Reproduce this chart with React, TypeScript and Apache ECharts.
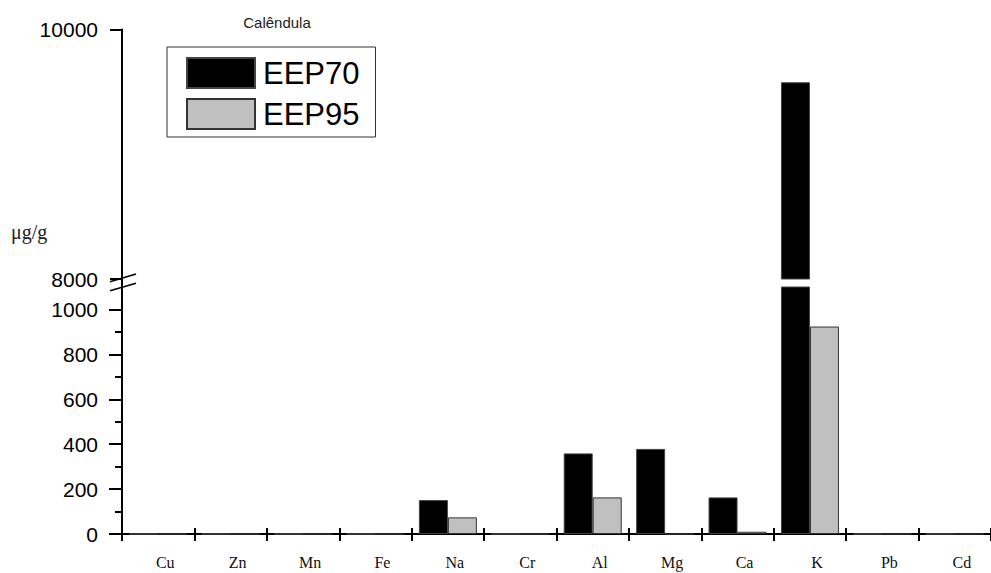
import React, { useEffect, useRef } from "react";
import * as echarts from "echarts";

const categories = ["Cu", "Zn", "Mn", "Fe", "Na", "Cr", "Al", "Mg", "Ca", "K", "Pb", "Cd"];
const eep70 = [0, 0, 0, 0, 151, 0, 359, 379, 163, 9577, 0, 0];
const eep95 = [0, 0, 0, 0, 74, 0, 163, 0, 10, 924, 0, 0];
const lowerTicks = [0, 200, 400, 600, 800, 1000];
const lowerMinorTicks = [100, 300, 500, 700, 900];
const upperTicks = [8000, 10000];
const seriesNames = ["EEP70", "EEP95"];
const title = "Calêndula";
const unitLabel = "μg/g";

const BREAK = 8000;
const LOWER_MAX = 1100;

export default function App() {
  const ref = useRef<HTMLDivElement>(null);
  useEffect(() => {
    if (!ref.current) return;
    const chart = echarts.init(ref.current, null, { renderer: "svg" });
    const sans = "'Liberation Sans', Arial, sans-serif";
    const serif = "'Liberation Serif', 'Times New Roman', serif";
    const styles = [
      { color: "#000000", borderColor: "#444444", borderWidth: 1 },
      { color: "#c0c0c0", borderColor: "#333333", borderWidth: 1 },
    ];
    const upperData = [eep70, eep95].map((arr) => arr.map((v) => (v >= BREAK ? v : null)));
    const gridLeft = 122;
    const gridWidth = 877;
    const plain = (v: number) => String(v);
    const option: any = {
      animation: false,
      backgroundColor: "#ffffff",
      title: {
        text: title,
        left: 272,
        top: 10,
        textAlign: "center",
        textStyle: { fontFamily: sans, fontSize: 15, fontWeight: "normal", color: "#222" },
      },
      legend: {
        data: seriesNames,
        orient: "vertical",
        left: 167,
        top: 47,
        icon: "rect",
        itemWidth: 68,
        itemHeight: 30,
        itemGap: 9,
        padding: [10, 16, 7, 19],
        borderColor: "#333",
        borderWidth: 1,
        textStyle: { fontFamily: sans, fontSize: 31, color: "#000", lineHeight: 30, padding: [0, 0, 0, 3] },
      },
      grid: [
        { left: gridLeft, top: 29.5, width: gridWidth, height: 249.5 },
        { left: gridLeft, top: 287, width: gridWidth, height: 247 },
      ],
      xAxis: [
        { type: "category", gridIndex: 0, data: categories, show: false },
        {
          type: "category",
          gridIndex: 1,
          data: categories,
          position: "bottom",
          axisLine: { show: true, lineStyle: { color: "#000", width: 2 } },
          axisTick: { show: true, length: 7, lineStyle: { color: "#000", width: 2 } },
          axisLabel: {
            fontFamily: serif,
            fontSize: 16,
            color: "#111",
            margin: 20,
            padding: [0, 0, 0, 14],
          },
        },
        {
          type: "category",
          gridIndex: 1,
          data: categories,
          position: "bottom",
          axisLine: { show: false },
          axisTick: { show: true, inside: true, length: 6, lineStyle: { color: "#000", width: 2 } },
          axisLabel: { show: false },
        },
      ],
      yAxis: [
        {
          type: "value",
          gridIndex: 0,
          min: BREAK,
          max: 10000,
          interval: 2000,
          axisLine: { show: true, lineStyle: { color: "#000", width: 2 } },
          axisTick: { show: true, length: 12, lineStyle: { color: "#000", width: 2 }, customValues: upperTicks },
          axisLabel: { fontFamily: sans, fontSize: 21, color: "#000", margin: 24, customValues: upperTicks, formatter: plain },
          splitLine: { show: false },
        },
        {
          type: "value",
          gridIndex: 1,
          min: 0,
          max: LOWER_MAX,
          axisLine: { show: true, lineStyle: { color: "#000", width: 2 } },
          axisTick: { show: true, length: 13, lineStyle: { color: "#000", width: 2 }, customValues: lowerTicks },
          axisLabel: { fontFamily: sans, fontSize: 21, color: "#000", margin: 24, customValues: lowerTicks, formatter: plain },
          splitLine: { show: false },
        },
        {
          type: "value",
          gridIndex: 1,
          min: 0,
          max: LOWER_MAX,
          position: "left",
          axisLine: { show: false },
          axisTick: { show: true, length: 7, lineStyle: { color: "#000", width: 2 }, customValues: lowerMinorTicks },
          axisLabel: { show: false, customValues: lowerMinorTicks },
          splitLine: { show: false },
        },
      ],
      series: [
        ...seriesNames.map((name, i) => ({
          name,
          type: "bar",
          xAxisIndex: 1,
          yAxisIndex: 1,
          data: i === 0 ? eep70 : eep95,
          barWidth: 29,
          barGap: "0%",
          clip: true,
          itemStyle: styles[i],
        })),
        ...seriesNames.map((name, i) => ({
          name,
          type: "bar",
          xAxisIndex: 0,
          yAxisIndex: 0,
          data: upperData[i],
          barWidth: 29,
          barGap: "0%",
          clip: true,
          itemStyle: styles[i],
        })),
      ],
      graphic: [
        {
          type: "line",
          shape: { x1: 122, y1: 278, x2: 122, y2: 288 },
          style: { stroke: "#000", lineWidth: 2 },
        },
        {
          type: "line",
          shape: { x1: 110, y1: 281.7, x2: 136, y2: 274 },
          style: { stroke: "#000", lineWidth: 1.6 },
        },
        {
          type: "line",
          shape: { x1: 110, y1: 290.7, x2: 136, y2: 283.3 },
          style: { stroke: "#000", lineWidth: 1.6 },
        },
        {
          type: "text",
          left: 11,
          top: 222,
          style: { text: unitLabel, fontFamily: serif, fontSize: 20, fill: "#222" },
        },
      ],
    };
    chart.setOption(option);
    return () => chart.dispose();
  }, []);
  return (
    <div
      ref={ref}
      style={{ position: "fixed", left: 0, top: 0, width: 991, height: 573, background: "#fff" }}
    />
  );
}
